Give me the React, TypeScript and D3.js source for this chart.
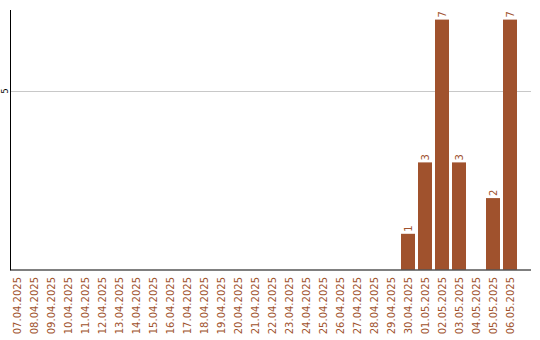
import React from "react";
import * as d3 from "d3";

const dates = [
  "07.04.2025", "08.04.2025", "09.04.2025", "10.04.2025", "11.04.2025",
  "12.04.2025", "13.04.2025", "14.04.2025", "15.04.2025", "16.04.2025",
  "17.04.2025", "18.04.2025", "19.04.2025", "20.04.2025", "21.04.2025",
  "22.04.2025", "23.04.2025", "24.04.2025", "25.04.2025", "26.04.2025",
  "27.04.2025", "28.04.2025", "29.04.2025", "30.04.2025", "01.05.2025",
  "02.05.2025", "03.05.2025", "04.05.2025", "05.05.2025", "06.05.2025",
];
const counts = [
  0, 0, 0, 0, 0, 0, 0, 0, 0, 0,
  0, 0, 0, 0, 0, 0, 0, 0, 0, 0,
  0, 0, 0, 1, 3, 7, 3, 0, 2, 7,
];
const yTicks = [5];

const W = 540;
const H = 340;
const left = 10.5;
const right = 531;
const top = 10;
const bottom = 269.5;
const barColor = "#a0522d";
const font = "DejaVu Sans, sans-serif";

export default function App() {
  const x = d3
    .scaleBand<string>()
    .domain(dates)
    .range([8.5, 518.5])
    .paddingInner(3 / 17)
    .paddingOuter(3 / 34);
  const y = d3.scaleLinear().domain([0, 5]).range([bottom, 91]);

  return (
    <svg
      width={W}
      height={H}
      style={{ position: "absolute", left: 0, top: 0, background: "#fff" }}
    >
      {yTicks.map((t) => (
        <g key={t}>
          <line x1={left} x2={right} y1={Math.round(y(t)) + 0.5} y2={Math.round(y(t)) + 0.5} stroke="#c8c8c8" strokeWidth={1} />
          <text
            transform={`translate(8,${y(t)}) rotate(-90)`}
            textAnchor="middle"
            fontFamily={font}
            fontSize={8}
            fill="#000"
          >
            {t}
          </text>
        </g>
      ))}
      {dates.map((d, i) => {
        const v = counts[i];
        if (v <= 0) return null;
        const bx = x(d)!;
        const bw = x.bandwidth();
        return (
          <g key={d}>
            <rect x={bx} y={y(v)} width={bw} height={bottom - y(v)} fill={barColor} />
            <text
              transform={`translate(${bx + bw / 2 + 3.5},${y(v) - 2}) rotate(-90)`}
              textAnchor="start"
              fontFamily={font}
              fontSize={10}
              fill={barColor}
            >
              {v}
            </text>
          </g>
        );
      })}
      <line x1={left} x2={left} y1={top} y2={bottom + 1} stroke="#000" strokeWidth={1} />
      <line x1={left} x2={right} y1={bottom + 0.5} y2={bottom + 0.5} stroke="#000" strokeWidth={1} />
      {dates.map((d) => (
        <text
          key={d}
          transform={`translate(${x(d)! + x.bandwidth() / 2 + 3.5},${277}) rotate(-90)`}
          textAnchor="end"
          fontFamily={font}
          fontSize={10}
          fill={barColor}
        >
          {d}
        </text>
      ))}
    </svg>
  );
}
